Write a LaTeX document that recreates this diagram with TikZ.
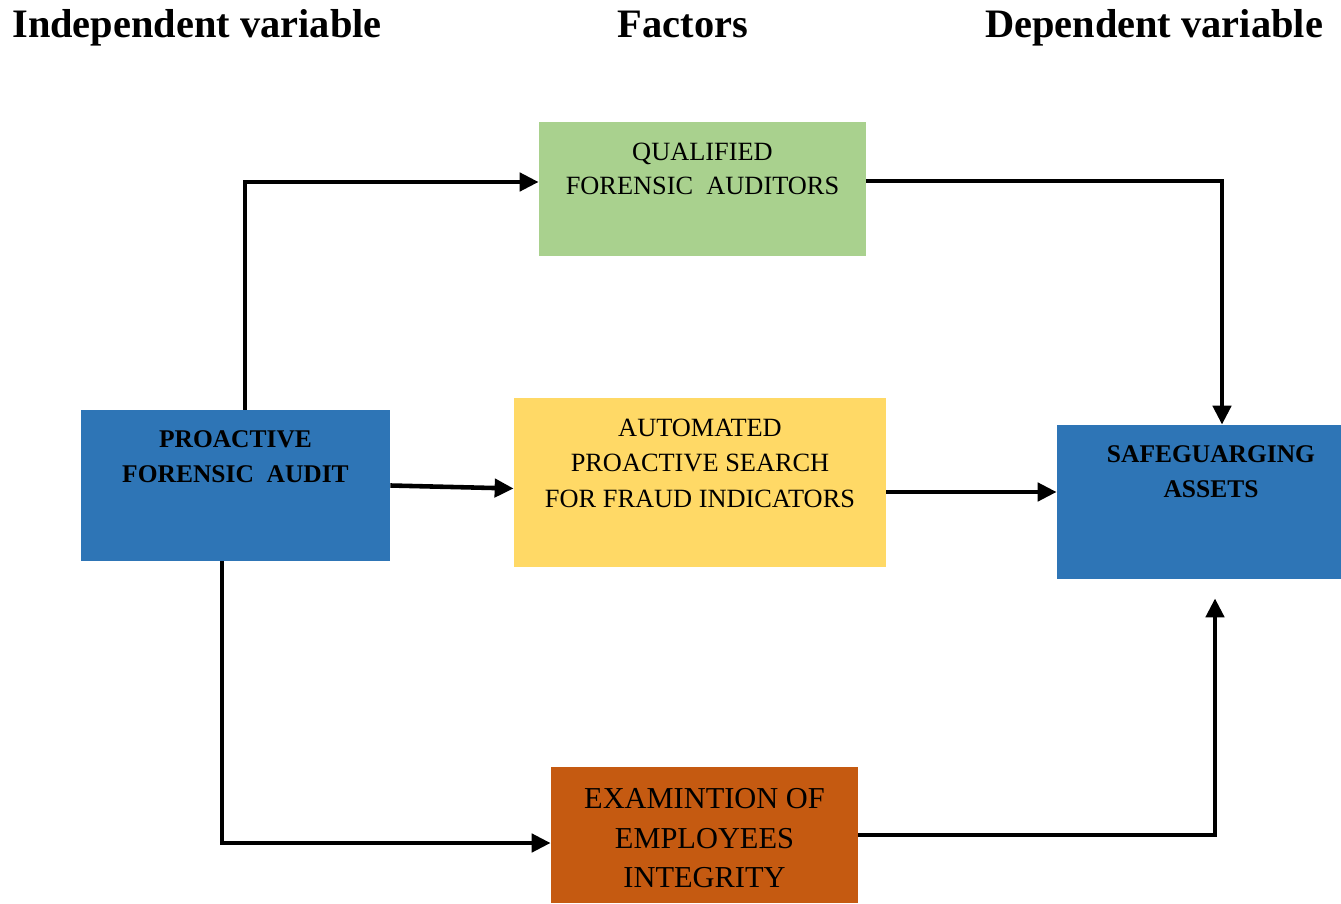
\documentclass[tikz,border=0pt]{standalone}
\usepackage{fontspec}
\setmainfont{Liberation Serif}
\usetikzlibrary{positioning,arrows.meta,calc}
\definecolor{boxblue}{HTML}{2E75B6}
\definecolor{boxgreen}{HTML}{A9D18E}
\definecolor{boxyellow}{HTML}{FFD966}
\definecolor{boxorange}{HTML}{C55A11}

\tikzset{
  box/.style={draw=none, inner sep=0pt},
  boxtext/.style={anchor=north, align=center, inner sep=0pt, below=0.42cm},
  heading/.style={anchor=base, font=\fontsize{23}{26}\selectfont\bfseries},
  conn/.style={line width=2.6pt, -{Triangle[length=0.38cm,width=0.36cm]}},
}

\begin{document}
\begin{tikzpicture}
        \useasboundingbox (0,0) rectangle (26.82,18.06);
        % column headings
        \node[heading] (hind) at (3.94,17.3) {Independent variable};
        \node[heading] (hfac) at (13.66,17.3) {Factors};
        \node[heading] (hdep) at (23.08,17.3) {Dependent variable};
        % boxes
        \node[box, fill=boxblue, minimum width=6.18cm, minimum height=3.02cm] (pfa) at (4.71,8.35) {};
        \node[box, fill=boxgreen, minimum width=6.54cm, minimum height=2.68cm] (qfa) at (14.05,14.28) {};
        \node[box, fill=boxyellow, minimum width=7.44cm, minimum height=3.38cm] (apsfi) at (14.0,8.41) {};
        \node[box, fill=boxblue, minimum width=5.68cm, minimum height=3.08cm] (sa) at (23.98,8.02) {};
        \node[box, fill=boxorange, minimum width=6.14cm, minimum height=2.72cm] (eei) at (14.09,1.36) {};
        % box texts
        \node[boxtext, font=\fontsize{14.5}{19.9}\selectfont\bfseries] (tpfa) at (pfa.north) {PROACTIVE\\FORENSIC\ \ AUDIT};
        \node[boxtext, font=\fontsize{15}{19.4}\selectfont] (tqfa) at (qfa.north) {QUALIFIED\\FORENSIC\ \ AUDITORS};
        \node[boxtext, font=\fontsize{15}{20.2}\selectfont] (tapsfi) at (apsfi.north) {AUTOMATED\\PROACTIVE SEARCH\\FOR FRAUD INDICATORS};
        \node[boxtext, font=\fontsize{14.5}{19.6}\selectfont\bfseries] (tsa) at ([xshift=0.24cm]sa.north) {SAFEGUARGING\\ASSETS};
        \node[boxtext, font=\fontsize{17.3}{22.7}\selectfont] (teei) at (eei.north) {EXAMINTION OF\\EMPLOYEES\\INTEGRITY};
        % connectors
        \draw[conn] ([xshift=0.19cm]pfa.north) |- ([yshift=0.14cm]qfa.west);
        \draw[conn] ([yshift=0.16cm]qfa.east) -| ([xshift=0.46cm]sa.north);
        \draw[conn] (pfa.east) -- ([yshift=-0.12cm]apsfi.west);
        \draw[conn] ([yshift=-0.19cm]apsfi.east) -- ([yshift=-0.19cm]apsfi.east -| sa.west);
        \draw[conn] ([xshift=-0.27cm]pfa.south) |- ([yshift=-0.16cm]eei.west);
        \draw[conn] (eei.east) -| ([xshift=0.32cm,yshift=-0.38cm]sa.south);
      \end{tikzpicture}
\end{document}
